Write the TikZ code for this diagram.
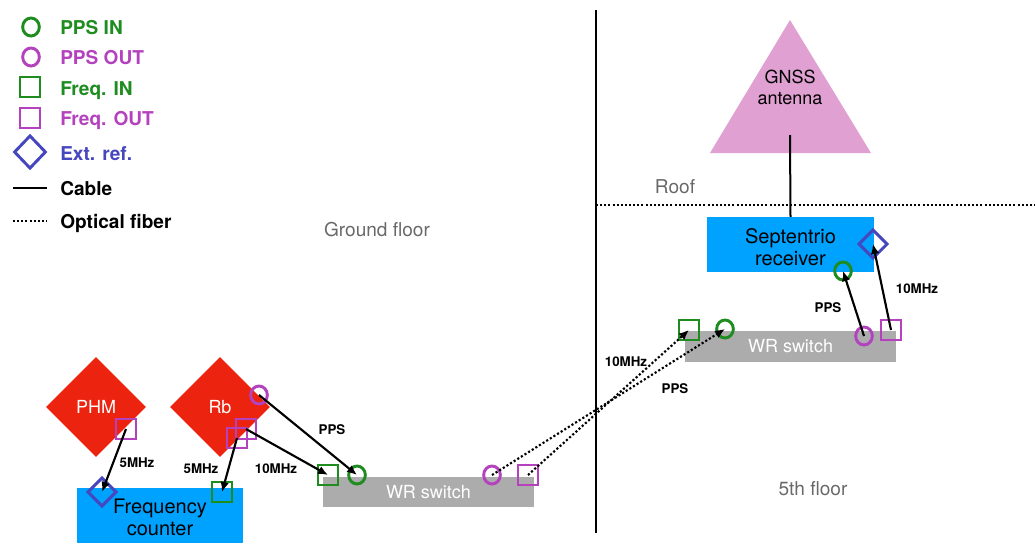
\documentclass[tikz,border=0pt]{standalone}
\usepackage{fontspec}
\setmainfont{TeX Gyre Heros}
\usetikzlibrary{shapes.geometric,arrows.meta}

\definecolor{cgreen}{RGB}{30,140,30}
\definecolor{cmag}{RGB}{180,65,190}
\definecolor{cblue}{RGB}{70,70,190}
\definecolor{cred}{RGB}{235,35,15}
\definecolor{ccyan}{RGB}{0,162,255}
\definecolor{cgray}{RGB}{172,172,172}
\definecolor{cpink}{RGB}{224,160,210}
\definecolor{cfloor}{RGB}{105,105,105}

\tikzset{
  port/.style={line width=2.2pt, inner sep=0pt},
  ppsin/.style={port, ellipse, draw=cgreen, minimum width=12.5pt, minimum height=13.5pt},
  ppsout/.style={port, ellipse, draw=cmag, minimum width=12.5pt, minimum height=13.5pt},
  fin/.style={port, rectangle, draw=cgreen, minimum size=15pt},
  fout/.style={port, rectangle, draw=cmag, minimum size=15pt},
  extref/.style={port, diamond, aspect=1, draw=cblue, minimum width=22pt, minimum height=22pt},
  clock/.style={diamond, aspect=1, fill=cred, text=white, inner sep=0pt,
    minimum width=75pt, minimum height=75pt, font=\fontsize{13.5}{16}\selectfont},
  bluebox/.style={rectangle, fill=ccyan, inner sep=0pt,
    minimum width=125pt, minimum height=41pt},
  boxtext/.style={align=center, inner sep=0pt, font=\fontsize{15}{16.5}\selectfont},
  wrbox/.style={rectangle, fill=cgray, text=white, inner sep=0pt,
    minimum width=158pt, minimum height=23pt, font=\fontsize{13.5}{16}\selectfont},
  cable/.style={line width=1.6pt, -{Latex[length=7.5pt,width=6.5pt]}},
  fiber/.style={cable, dash pattern=on 1.6pt off 1.6pt},
  siglabel/.style={anchor=base, inner sep=0pt, font=\fontsize{10}{12}\selectfont\bfseries},
  legendtext/.style={anchor=base west, inner sep=0pt, font=\fontsize{14.3}{17}\selectfont\bfseries},
  floorlabel/.style={anchor=base, inner sep=0pt, text=cfloor, font=\fontsize{14.3}{17}\selectfont},
}

\begin{document}
\begin{tikzpicture}[x=0.75pt,y=-0.75pt]
\useasboundingbox (0,0) rectangle (1035,543);

% ---------- legend ----------
\node[ppsin]  (lg1) at (31,27)  {};
\node[ppsout] (lg2) at (31,57)  {};
\node[fin]    (lg3) at (30,87)  {};
\node[fout]   (lg4) at (30,118) {};
\node[extref, minimum width=24pt, minimum height=25pt] (lg5) at (30,152) {};
\coordinate (lc1) at (13,188);
\coordinate (lc2) at (47,188);
\coordinate (lf1) at (13,221);
\coordinate (lf2) at (47,221);
\draw[line width=1.5pt] (lc1) -- (lc2);
\draw[line width=1.5pt, dash pattern=on 1.5pt off 1.6pt] (lf1) -- (lf2);
\node[legendtext, text=cgreen] (lt1) at (60,34)  {PPS IN};
\node[legendtext, text=cmag]   (lt2) at (60,64)  {PPS OUT};
\node[legendtext, text=cgreen] (lt3) at (60,95)  {Freq. IN};
\node[legendtext, text=cmag]   (lt4) at (60,125) {Freq. OUT};
\node[legendtext, text=cblue]  (lt5) at (60,160) {Ext. ref.};
\node[legendtext]              (lt6) at (60,195) {Cable};
\node[legendtext]              (lt7) at (60,228) {Optical fiber};

% ---------- floors ----------
\coordinate (wtop) at (596,10);
\coordinate (wbot) at (596,533);
\coordinate (roofl) at (596,205);
\coordinate (roofr) at (1035,205);
\draw[line width=1pt] (wtop) -- (wbot);
\draw[line width=1.5pt, dash pattern=on 1.5pt off 1.6pt] (roofl) -- (roofr);
\node[floorlabel] (roof)   at (675,193) {Roof};
\node[floorlabel] (ground) at (377,236) {Ground floor};
\node[floorlabel] (fifth)  at (813,495) {5th floor};

% ---------- roof: antenna ----------
\coordinate (gtop) at (790,20);
\coordinate (gleft) at (710,153);
\coordinate (gright) at (871,153);
\fill[cpink] (gtop) -- (gleft) -- (gright) -- cycle;
\node[align=center, inner sep=0pt, font=\fontsize{13.5}{15.8}\selectfont] (gnss) at (790,87) {GNSS\\antenna};
\coordinate (gcab) at (790,135);

% ---------- 5th floor ----------
\node[bluebox] (sept) at (790.5,244.5) {};
\node[boxtext] (septtext) at (790.5,247.5) {Septentrio\\receiver};
\draw[line width=1.5pt] (gcab) -- (sept.north);
\node[extref] (septref) at (873,244) {};
\node[ppsin]  (septpps) at (843,271) {};

\node[wrbox] (wrup) at (790.5,346.5) {WR switch};
\node[fin]    (upfin)  at (689,330) {};
\node[ppsin]  (upppsin) at (725,329) {};
\node[ppsout] (upppsout) at (864,336) {};
\node[fout]   (upfout) at (891,330) {};

% ---------- ground floor ----------
\node[clock] (phm) at (96,407) {PHM};
\node[clock] (rb)  at (220,407) {Rb};
\node[fout]   (phmout) at (126,429) {};
\node[ppsout] (rbpps)  at (259,395) {};
\node[fout]   (rbf10)  at (246,429) {};
\node[fout]   (rbf5)   at (237,438) {};

\node[bluebox] (cnt) at (160,515.5) {};
\node[boxtext] (cnttext) at (160,517.5) {Frequency\\counter};
\node[extref] (cntref) at (102,492) {};
\node[fin]    (cntfin) at (222,492) {};

\node[wrbox] (wrdn) at (428.5,492) {WR switch};
\node[fin]    (dnfin)    at (328,475) {};
\node[ppsin]  (dnppsin)  at (357,475) {};
\node[ppsout] (dnppsout) at (492,475) {};
\node[fout]   (dnfout)   at (528,475) {};

% ---------- cables ----------
\draw[cable] (phmout.center) -- (cntref.center);
\draw[cable] (rbf5.center) -- (cntfin.center);
\draw[cable] (rbf10.center) -- (dnfin.center);
\draw[cable] (rbpps.center) -- (dnppsin.center);
\draw[cable] (upppsout.center) -- (septpps.center);
\draw[cable] (upfout.center) -- (septref.center);

% ---------- fibers ----------
\draw[fiber] (dnppsout.center) -- (upppsin.center);
\draw[fiber] (dnfout.center) -- (upfin.center);

% ---------- signal labels ----------
\node[siglabel] (l1) at (137,467) {5MHz};
\node[siglabel] (l2) at (201,473) {5MHz};
\node[siglabel] (l3) at (276,473) {10MHz};
\node[siglabel] (l4) at (332,434) {PPS};
\node[siglabel] (l5) at (626,366) {10MHz};
\node[siglabel] (l6) at (675,393) {PPS};
\node[siglabel] (l7) at (828,312) {PPS};
\node[siglabel] (l8) at (917,293) {10MHz};
\end{tikzpicture}
\end{document}
